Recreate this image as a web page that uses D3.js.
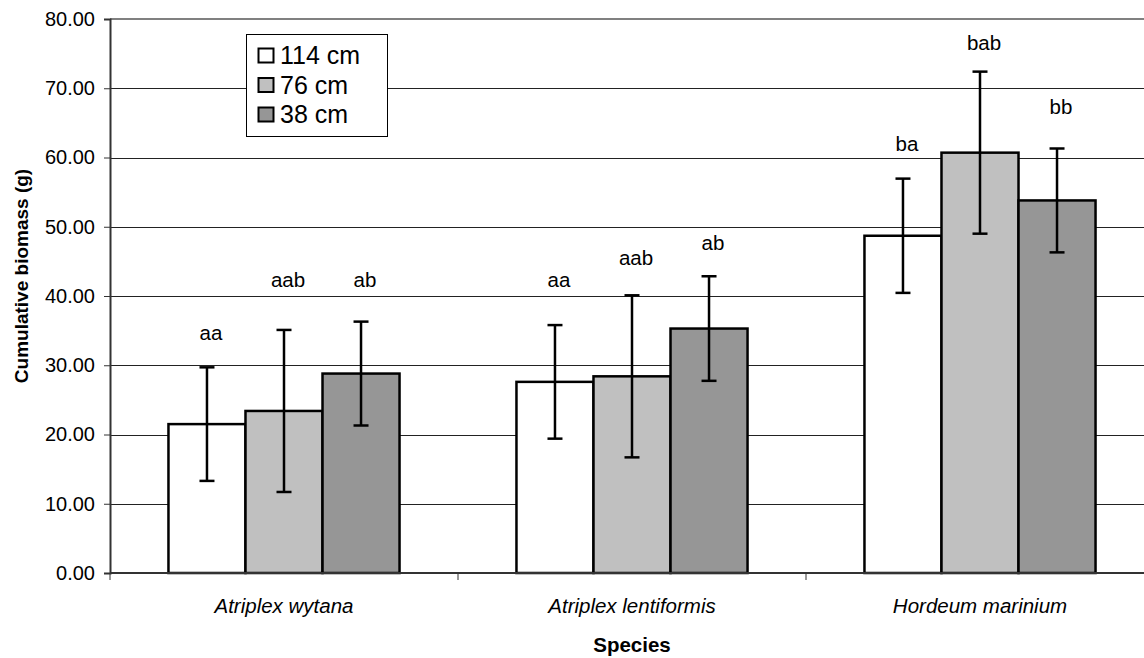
<!DOCTYPE html>
<html>
<head>
<meta charset="utf-8">
<script src="https://cdn.jsdelivr.net/npm/d3@7"></script>
<style>
  body { margin: 0; background: #fff; }
  svg { display: block; font-family: "Liberation Sans", Arial, sans-serif; }
</style>
</head>
<body>
<svg id="chart" width="1144" height="658"></svg>
<script>
// data
const species = ["Atriplex wytana", "Atriplex lentiformis", "Hordeum marinium"];
const depths = ["114 cm", "76 cm", "38 cm"];
const biomass114 = [21.5, 27.6, 48.7];
const biomass76 = [23.4, 28.4, 60.7];
const biomass38 = [28.8, 35.3, 53.8];
const err114 = [8.2, 8.2, 8.25];
const err76 = [11.7, 11.7, 11.7];
const err38 = [7.5, 7.55, 7.5];
const letters114 = ["aa", "aa", "ba"];
const letters76 = ["aab", "aab", "bab"];
const letters38 = ["ab", "ab", "bb"];
// baseline of the letter labels, in y units
const letterAt114 = [33.6, 41.3, 60.9];
const letterAt76 = [41.3, 44.5, 75.5];
const letterAt38 = [41.3, 46.6, 66.3];
const yTicks = [0, 10, 20, 30, 40, 50, 60, 70, 80];

const fills = ["#ffffff", "#c0c0c0", "#969696"];

const svg = d3.select("#chart");
const margin = { left: 110, right: 1154, top: 19, bottom: 573 };

const x0 = d3.scaleBand().domain(species).range([margin.left, margin.right]);
const bw = x0.bandwidth();
const gw = bw * 0.664;
const x1 = d3.scaleBand().domain(depths).range([(bw - gw) / 2, (bw + gw) / 2]);
const y = d3.scaleLinear().domain([0, 80]).range([margin.bottom, margin.top]);

const rows = [];
species.forEach((s, i) => {
    const vals = [biomass114[i], biomass76[i], biomass38[i]];
    const errs = [err114[i], err76[i], err38[i]];
    const lets = [letters114[i], letters76[i], letters38[i]];
    const lat = [letterAt114[i], letterAt76[i], letterAt38[i]];
    depths.forEach((d, j) => {
        rows.push({ species: s, depth: d, value: vals[j], err: errs[j], letter: lets[j], letterAt: lat[j], fill: fills[j] });
    });
});

// gridlines
svg.append("g")
    .selectAll("line")
    .data(yTicks.filter(t => t > 0 && t < 80))
    .enter().append("line")
    .attr("x1", margin.left)
    .attr("x2", 1144)
    .attr("y1", d => Math.round(y(d)) + 0.5)
    .attr("y2", d => Math.round(y(d)) + 0.5)
    .attr("stroke", "#222")
    .attr("stroke-width", 1);

// plot area top border
svg.append("line")
    .attr("x1", margin.left).attr("x2", 1144)
    .attr("y1", y(80)).attr("y2", y(80))
    .attr("stroke", "#808080")
    .attr("stroke-width", 2);

// bars
const bars = svg.append("g");
bars.selectAll("rect")
    .data(rows)
    .enter().append("rect")
    .attr("x", d => x0(d.species) + x1(d.depth))
    .attr("y", d => y(d.value))
    .attr("width", x1.bandwidth())
    .attr("height", d => y(0) - y(d.value))
    .attr("fill", d => d.fill)
    .attr("stroke", "#000")
    .attr("stroke-width", 2.5);

// error bars
const capW = 7.5;
const eb = svg.append("g").attr("stroke", "#000").attr("stroke-width", 2.5);
rows.forEach(d => {
    const cx = x0(d.species) + x1(d.depth) + x1.bandwidth() / 2;
    eb.append("line").attr("x1", cx).attr("x2", cx)
        .attr("y1", y(d.value + d.err)).attr("y2", y(d.value - d.err));
    eb.append("line").attr("x1", cx - capW).attr("x2", cx + capW)
        .attr("y1", y(d.value + d.err)).attr("y2", y(d.value + d.err));
    eb.append("line").attr("x1", cx - capW).attr("x2", cx + capW)
        .attr("y1", y(d.value - d.err)).attr("y2", y(d.value - d.err));
});

// letters
svg.append("g")
    .selectAll("text")
    .data(rows)
    .enter().append("text")
    .attr("x", d => x0(d.species) + x1(d.depth) + x1.bandwidth() / 2 + 4)
    .attr("y", d => y(d.letterAt))
    .attr("text-anchor", "middle")
    .style("font-size", "20.5px")
    .attr("fill", "#000")
    .text(d => d.letter);

// y axis
const yAxis = svg.append("g")
    .attr("transform", `translate(${margin.left},0)`)
    .call(d3.axisLeft(y).tickValues(yTicks).tickFormat(d3.format(".2f")).tickSize(6).tickPadding(9));
yAxis.select(".domain").attr("stroke", "#333").attr("stroke-width", 2);
yAxis.selectAll(".tick line").attr("stroke", "#333").attr("stroke-width", 1);
yAxis.selectAll(".tick text")
    .style("font-size", "20px")
    .style("font-family", "'Liberation Sans', Arial, sans-serif")
    .attr("fill", "#000");

// x axis
const xAxis = svg.append("g")
    .attr("transform", `translate(0,${margin.bottom})`);
xAxis.append("line")
    .attr("x1", margin.left).attr("x2", 1144)
    .attr("y1", 0).attr("y2", 0)
    .attr("stroke", "#333").attr("stroke-width", 2);
xAxis.selectAll(".xtick")
    .data(species)
    .enter().append("line")
    .attr("class", "xtick")
    .attr("x1", d => x0(d)).attr("x2", d => x0(d))
    .attr("y1", 0).attr("y2", 7)
    .attr("stroke", "#333").attr("stroke-width", 1);
xAxis.selectAll(".xlabel")
    .data(species)
    .enter().append("text")
    .attr("class", "xlabel")
    .attr("x", d => x0(d) + bw / 2)
    .attr("y", 40)
    .attr("text-anchor", "middle")
    .style("font-size", "20.5px")
    .style("font-style", "italic")
    .text(d => d);

// axis titles
svg.append("text")
    .attr("x", x0(species[1]) + bw / 2)
    .attr("y", 652)
    .attr("text-anchor", "middle")
    .style("font-size", "20.5px")
    .style("font-weight", "bold")
    .text("Species");

svg.append("text")
    .attr("transform", "translate(28,276) rotate(-90)")
    .attr("text-anchor", "middle")
    .style("font-size", "19px")
    .style("font-weight", "bold")
    .text("Cumulative biomass (g)");

// legend
const legend = svg.append("g").attr("transform", "translate(246,34)");
legend.append("rect")
    .attr("x", 0.5).attr("y", 0.5)
    .attr("width", 141).attr("height", 102)
    .attr("fill", "#fff")
    .attr("stroke", "#000")
    .attr("stroke-width", 1);
depths.forEach((d, i) => {
    const cy = 21.5 + i * 29.5;
    legend.append("rect")
        .attr("x", 12.5).attr("y", cy - 7)
        .attr("width", 15).attr("height", 14)
        .attr("fill", fills[i])
        .attr("stroke", "#000")
        .attr("stroke-width", 2);
    legend.append("text")
        .attr("x", 34)
        .attr("y", cy + 8.5)
        .style("font-size", "25px")
        .text(d);
});
</script>
</body>
</html>
